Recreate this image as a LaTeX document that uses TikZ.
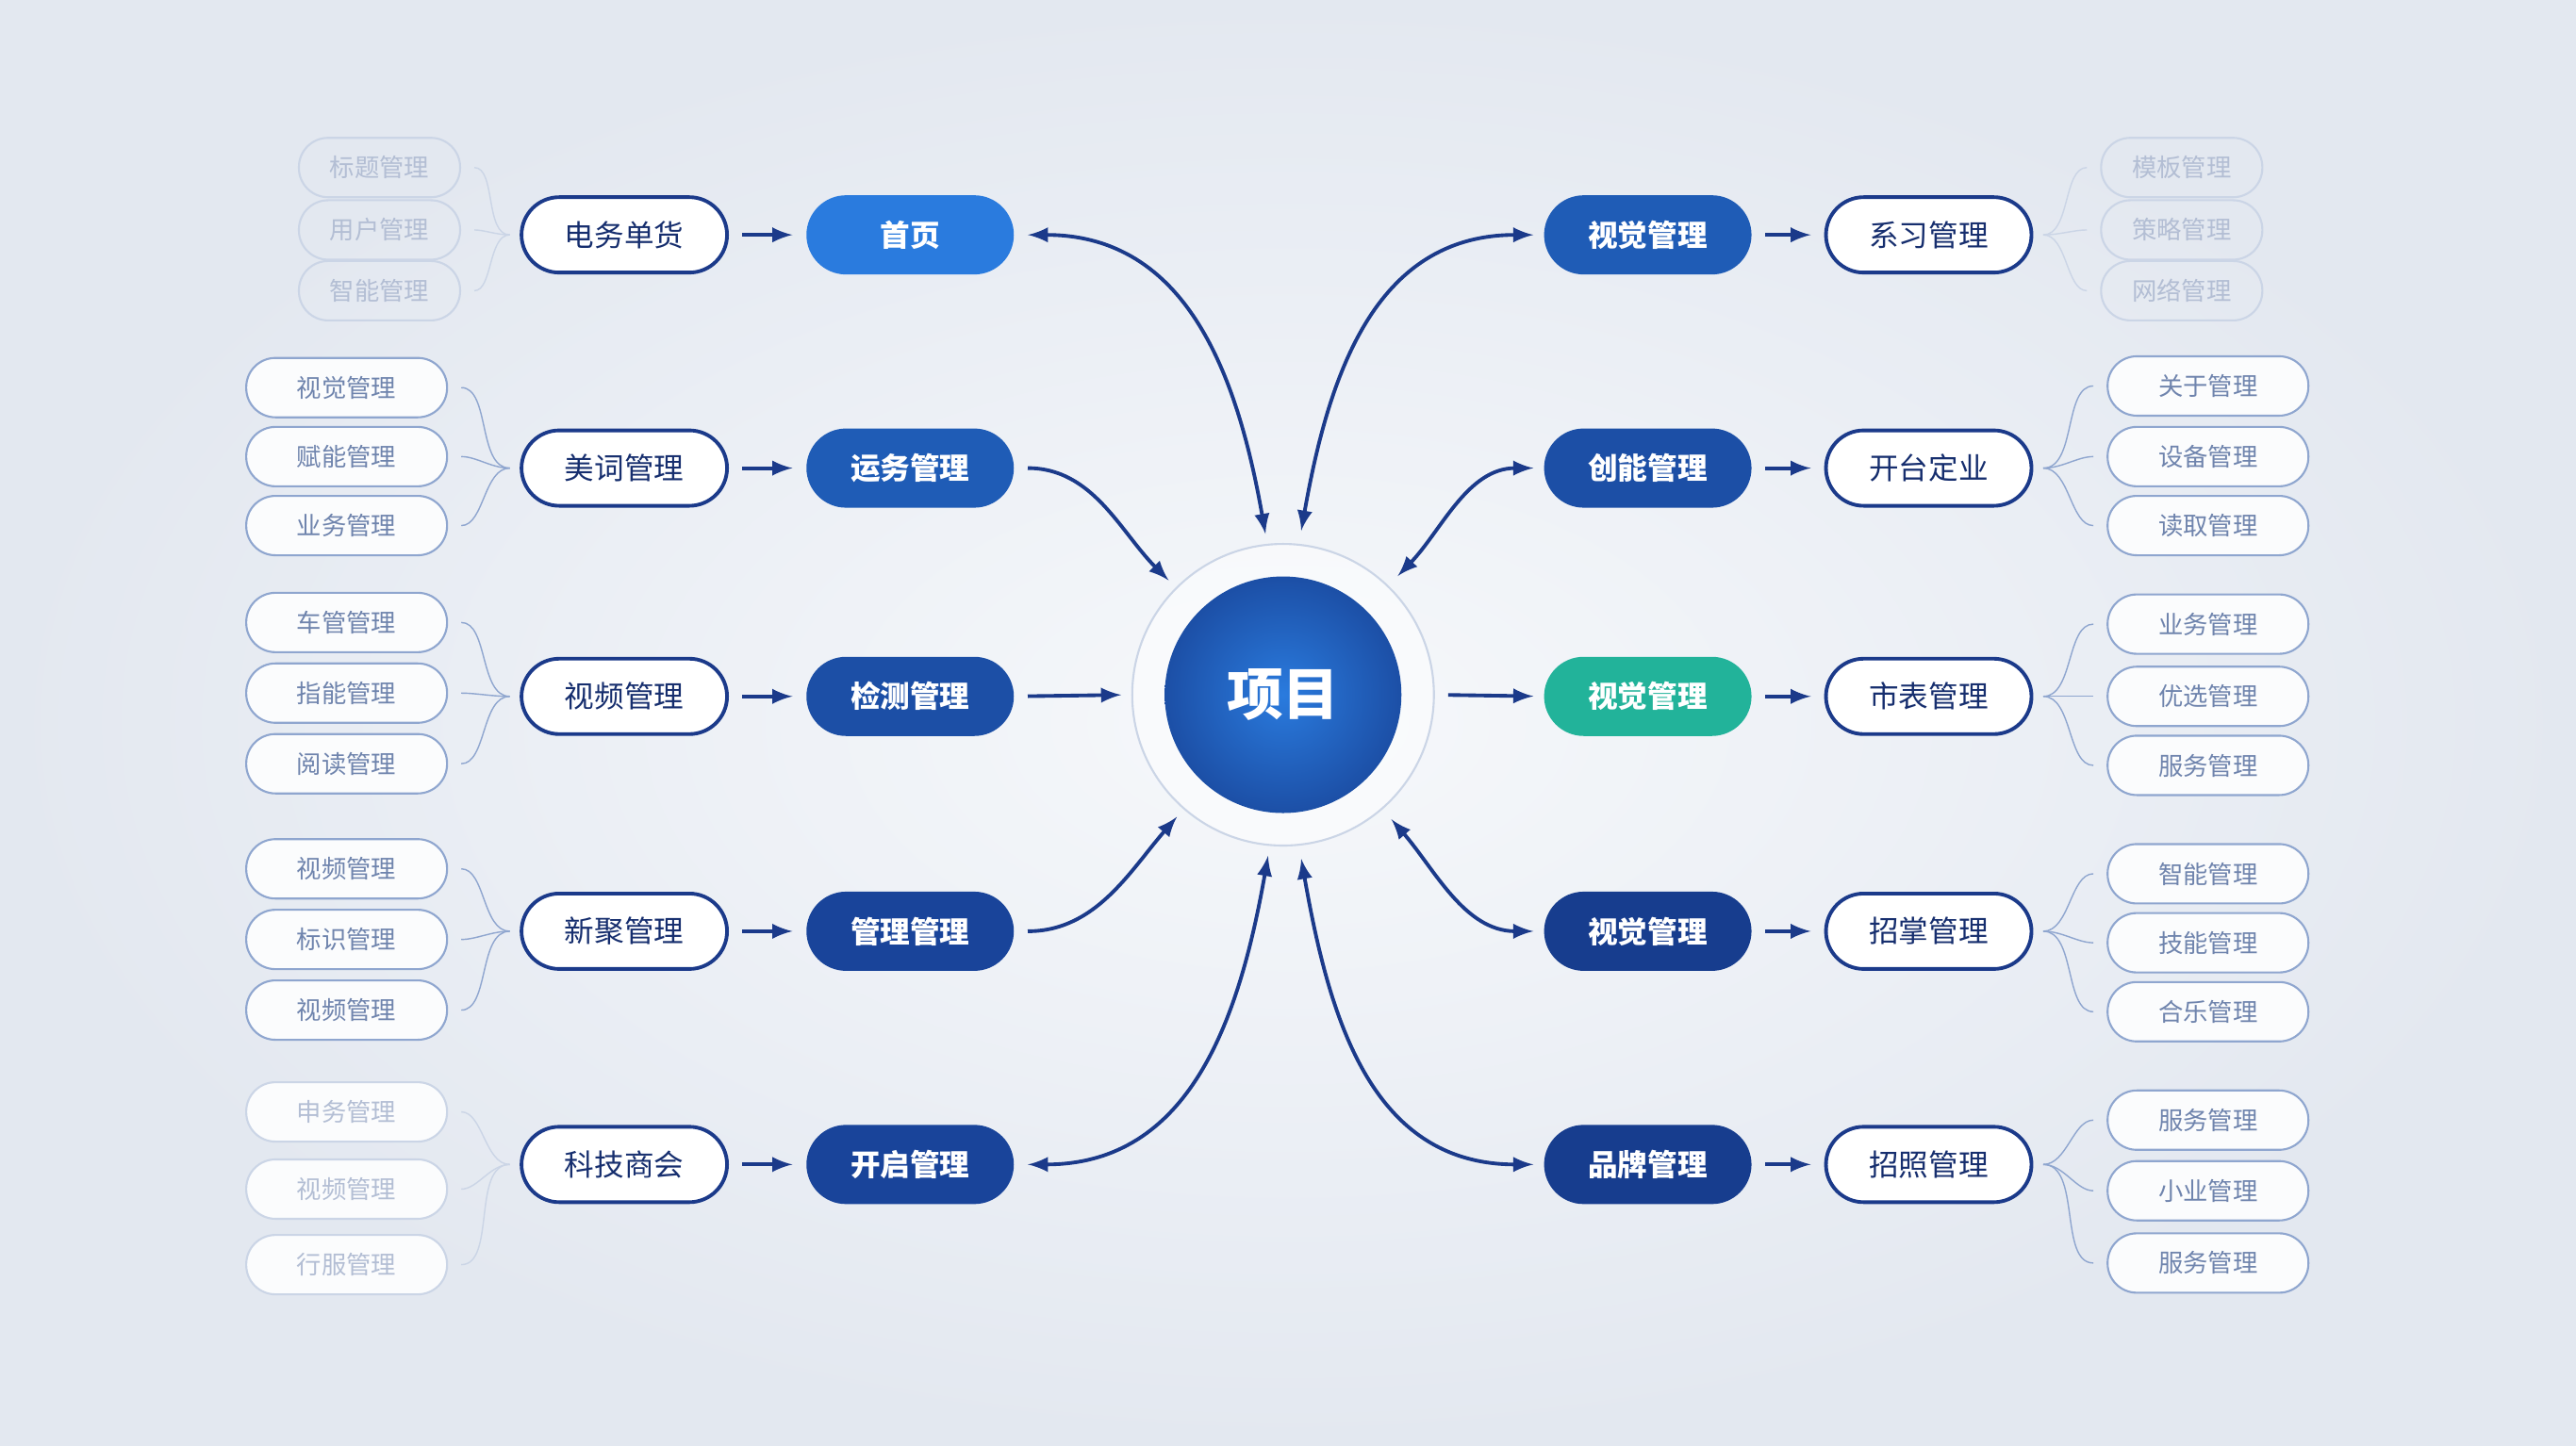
\documentclass[tikz,border=0pt]{standalone}
\usepackage{fontspec}
\setmainfont{Noto Sans CJK SC}
\usetikzlibrary{positioning}
\definecolor{navy}{HTML}{1B3A8A}
\definecolor{leafc}{HTML}{8FA6CF}
\definecolor{leaft}{HTML}{6F84AD}
\definecolor{fadec}{HTML}{CBD5E6}
\definecolor{fadet}{HTML}{B3BED4}
\definecolor{bgin}{HTML}{F6F8FB}
\definecolor{bgout}{HTML}{E3E8F0}
\definecolor{blA}{HTML}{2A7BDE}
\definecolor{blB}{HTML}{1F5CB6}
\definecolor{blC}{HTML}{1C4FA6}
\definecolor{blD}{HTML}{19449A}
\definecolor{blE}{HTML}{173D8E}
\definecolor{teal}{HTML}{22B39A}
\tikzset{
  wpill/.style={rounded corners=0.4cm, draw=navy, line width=1.1pt, fill=white, minimum width=2.18cm, minimum height=0.8cm, font=\fontsize{9}{10}\selectfont, text=navy!80!black},
  bpill/.style={rounded corners=0.42cm, minimum width=2.2cm, minimum height=0.84cm, font=\bfseries\fontsize{9}{10}\selectfont, text=white},
  leaf/.style={rounded corners=0.31cm, draw=leafc, line width=0.6pt, fill=white!60!bgin, minimum width=2.13cm, minimum height=0.63cm, font=\fontsize{7.5}{8}\selectfont, text=leaft},
  fleaf/.style={leaf, draw=fadec, text=fadet, fill=none, minimum width=1.71cm},
  leafln/.style={-, draw=leafc, line width=0.4pt, shorten >=4pt, shorten <=3pt},
  fleafln/.style={leafln, draw=fadec},
  link/.style={->, draw=navy, line width=1.1pt, shorten <=4pt, shorten >=3pt},
  both/.style={<->, draw=navy, line width=1.1pt, shorten <=4pt, shorten >=3pt}
}
\begin{document}
\begin{tikzpicture}[x=0.017423cm,y=-0.017423cm,>=latex]
\shade[inner color=bgin, outer color=bgout] (0,0) rectangle (1568,880);
\useasboundingbox (0,0) rectangle (1568,880);

% centre
\node (halo) [circle, minimum size=3.2cm, fill=white, fill opacity=0.5, draw=fadec, line width=0.6pt] at (781,423) {};
\node (ctr) [circle, minimum size=2.51cm, inner color=blA, outer color=blC, text=white, font=\bfseries\fontsize{17}{18}\selectfont] at (781,423) {项目};

% left rows
\foreach \i/\y/\t/\u/\c in {1/143/电务单货/首页/blA, 2/285/美词管理/运务管理/blB, 3/424/视频管理/检测管理/blC, 4/567/新聚管理/管理管理/blD, 5/709/科技商会/开启管理/blD}{
  \node (wl\i) [wpill] at (380,\y) {\t};
  \node (bl\i) [bpill, fill=\c] at (554,\y) {\u};
  \draw [link, shorten <=4pt, shorten >=4pt] (wl\i) -- (bl\i);
}
% right rows
\foreach \i/\y/\t/\u/\c in {1/143/视觉管理/系习管理/blB, 2/285/创能管理/开台定业/blC, 3/424/视觉管理/市表管理/teal, 4/567/视觉管理/招掌管理/blE, 5/709/品牌管理/招照管理/blE}{
  \node (br\i) [bpill, fill=\c] at (1003,\y) {\t};
  \node (wr\i) [wpill] at (1174,\y) {\u};
  \draw [link, shorten <=4pt, shorten >=4pt] (br\i) -- (wr\i);
}

% leaves, left
\foreach \j/\y/\t in {1/102/标题管理, 2/140/用户管理, 3/177/智能管理}{
  \node (ll1\j) [fleaf] at (231,\y) {\t};
  \draw [fleafln] (wl1.west) to[out=180,in=0] (ll1\j.east);
}
\foreach \i/\j/\y/\t in {2/1/236/视觉管理, 2/2/278/赋能管理, 2/3/320/业务管理, 3/1/379/车管管理, 3/2/422/指能管理, 3/3/465/阅读管理, 4/1/529/视频管理, 4/2/572/标识管理, 4/3/615/视频管理}{
  \node (ll\i\j) [leaf] at (211,\y) {\t};
  \draw [leafln] (wl\i.west) to[out=180,in=0] (ll\i\j.east);
}
\foreach \j/\y/\t in {1/677/申务管理, 2/724/视频管理, 3/770/行服管理}{
  \node (ll5\j) [leaf, draw=fadec, text=fadet] at (211,\y) {\t};
  \draw [fleafln] (wl5.west) to[out=180,in=0] (ll5\j.east);
}

% leaves, right
\foreach \j/\y/\t in {1/102/模板管理, 2/140/策略管理, 3/177/网络管理}{
  \node (lr1\j) [fleaf] at (1328,\y) {\t};
  \draw [fleafln] (wr1.east) to[out=0,in=180] (lr1\j.west);
}
\foreach \i/\j/\y/\t in {2/1/235/关于管理, 2/2/278/设备管理, 2/3/320/读取管理, 3/1/380/业务管理, 3/2/424/优选管理, 3/3/466/服务管理, 4/1/532/智能管理, 4/2/574/技能管理, 4/3/616/合乐管理, 5/1/682/服务管理, 5/2/725/小业管理, 5/3/769/服务管理}{
  \node (lr\i\j) [leaf] at (1344,\y) {\t};
  \draw [leafln] (wr\i.east) to[out=0,in=180] (lr\i\j.west);
}

% links to the centre
\draw [both] (bl1.east) to[out=0,in=100,looseness=1.1] (halo.96);
\draw [link] (bl2.east) to[out=0,in=135] (halo.135);
\draw [link] (bl3.east) -- (halo.west);
\draw [link] (bl4.east) to[out=0,in=229] (halo.229);
\draw [both] (bl5.east) to[out=0,in=260,looseness=1.1] (halo.265);
\draw [both] (halo.84) to[out=80,in=180,looseness=1.1] (br1.west);
\draw [both] (halo.46) to[out=46,in=180] (br2.west);
\draw [link] (halo.east) -- (br3.west);
\draw [both] (halo.311) to[out=311,in=180] (br4.west);
\draw [both] (halo.276) to[out=280,in=180,looseness=1.1] (br5.west);
\end{tikzpicture}
\end{document}
